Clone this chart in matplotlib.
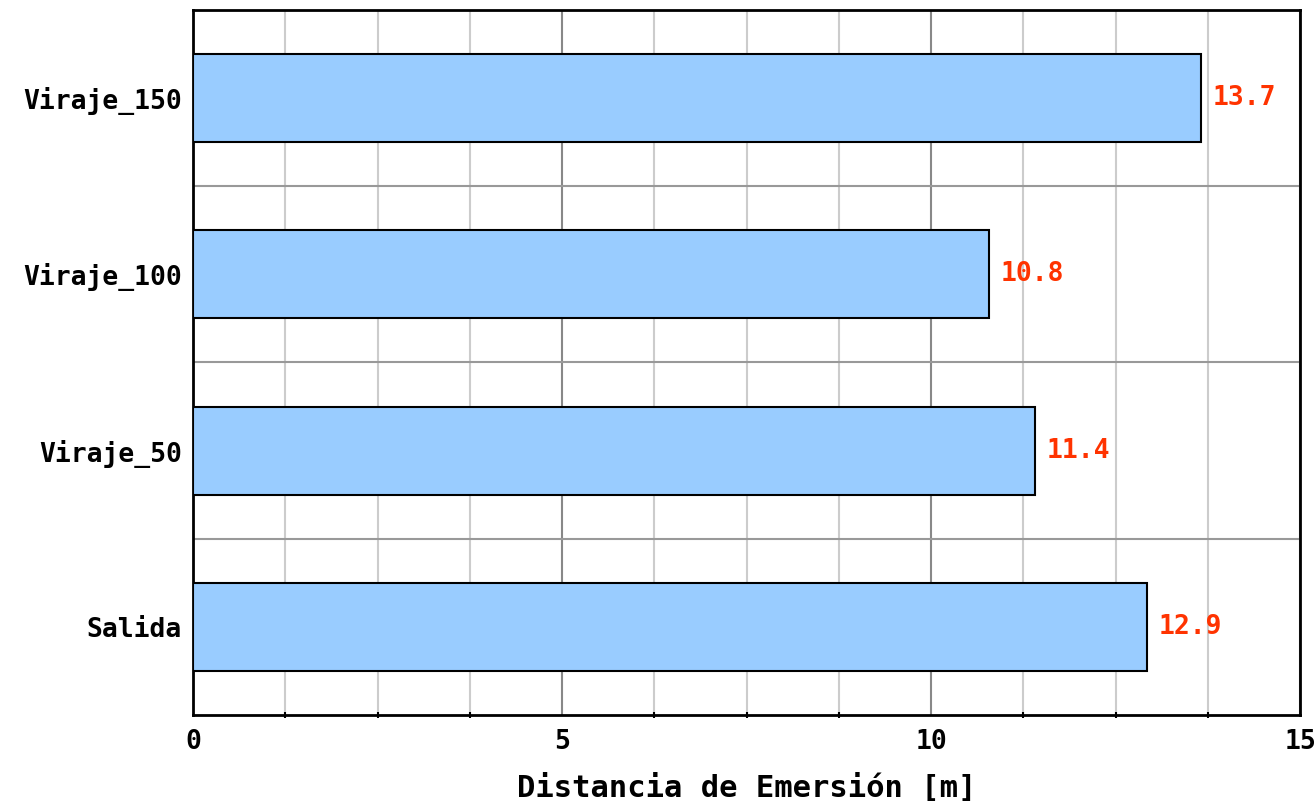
import matplotlib
matplotlib.use('Agg')
import matplotlib.pyplot as plt
from matplotlib.ticker import MultipleLocator, FixedLocator

# datos
categorias = ['Salida', 'Viraje_50', 'Viraje_100', 'Viraje_150']
distancias = [12.93, 11.41, 10.78, 13.66]
etiquetas = ['12.9', '11.4', '10.8', '13.7']

plt.rcParams['font.family'] = 'DejaVu Sans Mono'
plt.rcParams['font.weight'] = 'bold'

fig = plt.figure(figsize=(13.15, 8.05), dpi=100)
ax = fig.add_axes([0.1468, 0.1118, 0.8418, 0.8758])

pos = list(range(len(categorias)))
ax.barh(pos, distancias, height=0.5, color='#99ccff', edgecolor='black', linewidth=1.5, zorder=3)

for p, v, t in zip(pos, distancias, etiquetas):
    ax.text(v + 0.16, p, t, va='center', ha='left', color='#ff3300',
            fontsize=19, fontweight='bold', zorder=4)

ax.set_xlim(0, 15)
ax.set_ylim(-0.5, 3.5)
ax.set_yticks(pos)
ax.set_yticklabels(categorias, fontsize=19, fontweight='bold')
ax.xaxis.set_major_locator(MultipleLocator(5))
ax.xaxis.set_minor_locator(MultipleLocator(1.25))
ax.yaxis.set_minor_locator(FixedLocator([0.5, 1.5, 2.5]))
ax.tick_params(axis='x', which='major', length=0, labelsize=19, pad=10)
ax.tick_params(axis='x', which='minor', length=5, width=1.5, direction='inout')
ax.tick_params(axis='y', which='both', length=0, pad=8)

ax.grid(which='major', axis='x', color='#888888', linewidth=1.5, zorder=0)
ax.grid(which='minor', axis='x', color='#cccccc', linewidth=1.5, zorder=0)
ax.grid(which='minor', axis='y', color='#999999', linewidth=1.5, zorder=0)
ax.set_axisbelow(True)

for s in ax.spines.values():
    s.set_linewidth(2)
    s.set_color('black')

ax.set_xlabel('Distancia de Emersión [m]', fontsize=22, fontweight='bold', labelpad=14)

plt.savefig('out.png', dpi=100)
